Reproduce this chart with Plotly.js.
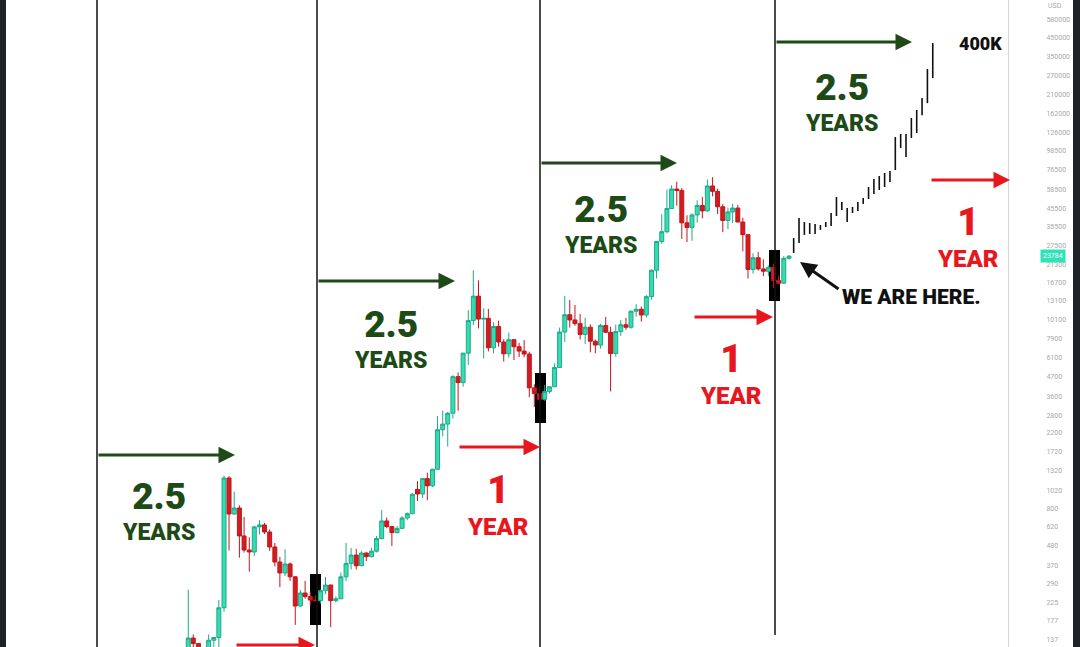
<!DOCTYPE html>
<html>
<head>
<meta charset="utf-8">
<script src="https://cdn.plot.ly/plotly-3.0.1.min.js"></script>
<style>html,body{margin:0;padding:0;background:#fff;}#chart{width:1080px;height:647px;}</style>
</head>
<body>
<div id="chart"></div>
<script>
// ---- Data: monthly candles ----
const months = ['2013-04','2013-05','2013-06','2013-07','2013-08','2013-09','2013-10','2013-11','2013-12',
'2014-01','2014-02','2014-03','2014-04','2014-05','2014-06','2014-07','2014-08','2014-09','2014-10','2014-11','2014-12',
'2015-01','2015-02','2015-03','2015-04','2015-05','2015-06','2015-07','2015-08','2015-09','2015-10','2015-11','2015-12',
'2016-01','2016-02','2016-03','2016-04','2016-05','2016-06','2016-07','2016-08','2016-09','2016-10','2016-11','2016-12',
'2017-01','2017-02','2017-03','2017-04','2017-05','2017-06','2017-07','2017-08','2017-09','2017-10','2017-11','2017-12',
'2018-01','2018-02','2018-03','2018-04','2018-05','2018-06','2018-07','2018-08','2018-09','2018-10','2018-11','2018-12',
'2019-01','2019-02','2019-03','2019-04','2019-05','2019-06','2019-07','2019-08','2019-09','2019-10','2019-11','2019-12',
'2020-01','2020-02','2020-03','2020-04','2020-05','2020-06','2020-07','2020-08','2020-09','2020-10','2020-11','2020-12',
'2021-01','2021-02','2021-03','2021-04','2021-05','2021-06','2021-07','2021-08','2021-09','2021-10','2021-11','2021-12',
'2022-01','2022-02','2022-03','2022-04','2022-05','2022-06','2022-07','2022-08','2022-09','2022-10','2022-11','2022-12',
'2023-01','2023-02'];

const open = [93,139,129,97,106,135,140,209,1200,
739,801,550,455,443,621,638,580,474,387,334,377,
317,214,255,243,232,230,263,284,230,236,317,380,
425,368,437,416,448,531,673,624,575,609,700,742,
1030,968,1190,1080,1350,2300,2480,2870,4700,4340,6450,10000,
13900,10200,10300,6930,9240,7490,6390,7730,7030,6630,6370,4040,
3740,3460,3850,4100,5320,8570,10820,10080,9600,8300,9150,7570,
7190,9350,8540,6410,8620,9450,9140,11350,11650,10780,13800,19700,
28990,33100,45200,58800,57700,37300,35040,41460,47100,43800,61300,57000,
46300,38500,43200,45500,37700,31800,19900,23300,20050,19430,20490,17160,
16540,23130];

const high = [266,146,130,111,146,141,232,1240,1230,
1000,830,710,540,630,680,655,600,500,415,460,385,
320,265,300,261,247,267,317,285,244,336,500,467,
462,448,440,470,550,780,704,626,629,719,755,981,
1150,1200,1290,1360,2760,2980,2920,4790,4980,6470,11500,19700,
17200,11800,11700,9770,9990,7780,8500,7760,7400,7680,6570,4240,
4110,4200,4110,5620,9100,13900,13200,12330,10920,10370,9510,7750,
9580,10500,9190,9460,10070,10380,11430,12470,12070,14100,19900,29300,
41950,58350,61790,64900,59600,41300,42400,50500,52900,67000,69000,59100,
47990,45800,48200,47400,39900,31900,24700,25200,22800,21000,21500,18400,
23800,24200];

const low = [50,92,88,65,93,106,102,198,452,
730,410,440,340,420,560,565,450,365,276,320,300,
166,212,236,215,228,221,251,161,225,236,300,350,
350,366,392,412,440,525,610,480,570,605,680,740,
880,915,890,1060,1340,2100,1830,2670,2970,4110,5500,9400,
9000,6000,6600,6430,7040,5750,6070,5880,6120,6100,3560,3120,
3350,3390,3730,4080,5320,7500,9100,9320,7750,7300,6520,6430,
6850,8450,3850,6150,8120,8830,8970,10540,9880,10410,13230,17600,
28130,32300,45000,47000,30000,28800,29300,37400,39600,43300,53300,42000,
32900,34300,37200,37600,25400,17600,18800,19600,18200,18200,15500,16300,
16500,22700];

const close = [139,129,97,106,135,140,209,1200,739,
801,550,455,443,621,638,580,474,387,334,377,317,
214,255,243,232,230,263,284,230,236,317,380,425,
368,437,416,448,531,673,624,575,609,700,742,963,
968,1190,1080,1350,2300,2480,2870,4700,4340,6450,10000,13900,
10200,10300,6930,9240,7490,6390,7730,7030,6630,6370,4040,3740,
3460,3850,4100,5320,8570,10820,10080,9600,8300,9150,7570,7190,
9350,8540,6410,8620,9450,9140,11350,11650,10780,13800,19700,28990,
33100,45200,58800,57700,37300,35040,41460,47100,43800,61300,57000,46300,
38500,43200,45500,37700,31800,19900,23300,20050,19430,20490,17160,16540,
23130,23784];

// ---- Projected path (thin black bars) ----
const projDates = ['2023-03-01','2023-04-02','2023-05-04','2023-06-05','2023-07-07','2023-08-08','2023-09-09',
'2023-10-11','2023-11-12','2023-12-14','2024-01-15','2024-02-16','2024-03-19','2024-04-20','2024-05-22',
'2024-06-23','2024-07-25','2024-08-26','2024-09-27','2024-10-29','2024-11-30','2025-01-01','2025-02-02',
'2025-03-06','2025-04-07','2025-05-09','2025-06-10'];
const projLow  = [24850,28400,31700,32100,32100,33900,35300,35700,40900,44400,37700,42600,43800,48100,51400,
55000,58000,60400,64600,76000,102000,90500,117000,125000,159000,187000,262000];
const projHigh = [30400,39800,37700,37200,36700,36200,37700,42600,52800,49400,45600,46200,49400,52100,60400,
67300,70100,73000,75000,118500,123400,123400,153000,170400,200400,296000,420000];

// ---- Price axis tick labels ----
const yTicks = [137,177,225,290,370,480,620,800,1020,1320,1720,2200,2800,3600,4700,6100,7900,10100,13100,
16700,21300,27500,35500,45500,58500,76500,98500,126000,162000,210000,270000,350000,450000,580000];
const lastPrice = 23784;

// ---- helpers: pixel -> paper ----
const L = 6, PW = 1002, PH = 647;
const px = x => (x - L) / PW;
const py = y => 1 - y / PH;

const GREEN = '#1d4a16', RED = '#e8161d';
const FONT = 'Roboto, "Liberation Sans", Arial, sans-serif';

const traces = [
  {
    type: 'candlestick', x: months, open: open, high: high, low: low, close: close,
    increasing: {line: {color: '#1faa88', width: 1}, fillcolor: '#35dbb2'},
    decreasing: {line: {color: '#c4161c', width: 1}, fillcolor: '#d01d22'},
    whiskerwidth: 0, hoverinfo: 'skip', showlegend: false
  },
  {
    type: 'ohlc', x: projDates, open: projLow, high: projHigh, low: projLow, close: projHigh,
    tickwidth: 0,
    increasing: {line: {color: '#111111', width: 1.6}},
    decreasing: {line: {color: '#111111', width: 1.6}},
    hoverinfo: 'skip', showlegend: false
  }
];

function vline(x, y0, y1) {
  return {type: 'line', xref: 'paper', yref: 'paper', x0: px(x), x1: px(x), y0: py(y1), y1: py(y0),
          line: {color: '#111', width: 1.5}, layer: 'above'};
}
function blk(x0, x1, y0, y1) {
  return {type: 'rect', xref: 'paper', yref: 'paper', x0: px(x0), x1: px(x1), y0: py(y1), y1: py(y0),
          fillcolor: '#000', line: {width: 0}, layer: 'below'};
}

const shapes = [
  blk(310, 321, 574, 625), blk(535, 546, 373, 423), blk(769, 780, 250, 301),
  vline(97, 0, 647), vline(317, 0, 647), vline(540, 0, 647), vline(775, 0, 635),
  {type: 'rect', xref: 'paper', yref: 'paper', x0: px(0), x1: px(6), y0: 0, y1: 1, fillcolor: '#1e2327', line: {width: 0}, layer: 'above'},
  {type: 'rect', xref: 'paper', yref: 'paper', x0: px(1073), x1: px(1080), y0: 0, y1: 1, fillcolor: '#1e2327', line: {width: 0}, layer: 'above'}
];

function arrow(x0, y0, x1, y1, color) {
  return {xref: 'paper', yref: 'paper', x: px(x1), y: py(y1), ax: x0 - x1, ay: y0 - y1,
          text: '', showarrow: true, arrowhead: 2, arrowsize: 1.1, arrowwidth: 3, arrowcolor: color, standoff: 0, startstandoff: 0};
}
// two-line label: big number on top, word below (one text block)
function pair(x, yBox, big, word, bigSize, wordSize, base, color) {
  return {xref: 'paper', yref: 'paper', x: px(x), y: py(yBox), showarrow: false,
          text: '<span style="font-size:' + bigSize + 'px">' + big + '</span><br><span style="font-size:' + wordSize + 'px">' + word + '</span>',
          xanchor: 'center', yanchor: 'middle', align: 'center',
          font: {family: FONT, size: base, color: color, weight: 900}};
}
function label(x, y, text, size, color) {
  return {xref: 'paper', yref: 'paper', x: px(x), y: py(y), text: text, showarrow: false,
          xanchor: 'center', yanchor: 'middle', font: {family: FONT, size: size, color: color, weight: 900}};
}

const annotations = [
  arrow(97, 455, 235, 455, GREEN), arrow(317, 281, 455, 281, GREEN),
  arrow(540, 163, 677, 163, GREEN), arrow(775, 42, 912, 42, GREEN),
  arrow(235, 645, 315, 645, RED), arrow(458, 447, 540, 447, RED),
  arrow(693, 317, 773, 317, RED), arrow(930, 180, 1010, 180, RED),
  arrow(840, 290, 800, 262, '#111'),
  pair(158, 510, '2.5', 'YEARS', 37, 23, 23.5, GREEN),
  pair(390, 338, '2.5', 'YEARS', 37, 23, 23.5, GREEN),
  pair(600, 223, '2.5', 'YEARS', 37, 23, 23.5, GREEN),
  pair(841, 101, '2.5', 'YEARS', 37, 23, 23.5, GREEN),
  pair(498, 504, '1', 'YEAR', 38, 24, 24.3, RED),
  pair(731, 374, '1', 'YEAR', 38, 24, 24.3, RED),
  pair(968, 236, '1', 'YEAR', 38, 24, 24.3, RED),
  label(980, 43, '400K', 18, '#111'),
  label(911, 297, 'WE ARE HERE.', 21, '#111'),
  {xref: 'paper', yref: 'paper', x: px(1046), y: py(6), text: 'USD', showarrow: false, xanchor: 'left', yanchor: 'middle',
   font: {family: FONT, size: 7, color: '#a8a8a8'}},
  {xref: 'paper', yref: 'y', x: px(1040), y: Math.log10(lastPrice), text: String(lastPrice), showarrow: false,
   xanchor: 'left', yanchor: 'middle', bgcolor: '#2fe3b6', borderpad: 2,
   font: {family: FONT, size: 7, color: '#ffffff'}}
];

const layout = {
  width: 1080, height: 647,
  margin: {l: L, r: 1080 - L - PW, t: 0, b: 0, pad: 0},
  paper_bgcolor: '#ffffff', plot_bgcolor: '#ffffff',
  showlegend: false, hovermode: false,
  boxgap: 0.08, boxgroupgap: 0.08,
  xaxis: {type: 'date', range: ['2010-04-07', '2026-09-03'], showgrid: false, zeroline: false,
          showticklabels: false, ticks: '', showline: false, rangeslider: {visible: false}, fixedrange: true},
  yaxis: {type: 'log', side: 'right', range: [2.0907, 5.875], tickvals: yTicks, ticktext: yTicks.map(String),
          tickfont: {family: FONT, size: 7, color: '#a8a8a8'}, showgrid: false, zeroline: false,
          showline: true, linecolor: '#d4d4d4', linewidth: 1, ticks: '', ticklabelstandoff: 36, fixedrange: true},
  shapes: shapes, annotations: annotations
};

Plotly.newPlot('chart', traces, layout, {displayModeBar: false, staticPlot: true});
</script>
</body>
</html>
